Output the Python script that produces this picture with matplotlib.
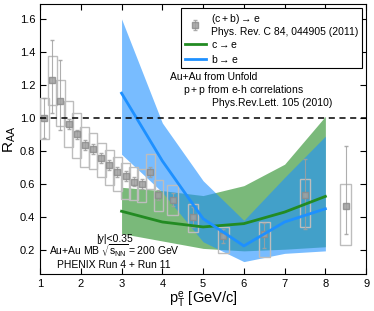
import matplotlib
matplotlib.use("Agg")
import matplotlib.pyplot as plt
from matplotlib.patches import Rectangle

plt.rcParams["font.family"] = ["Liberation Sans", "DejaVu Sans"]
plt.rcParams["mathtext.default"] = "regular"

# PHENIX (c+b)->e, Phys. Rev. C 84, 044905
pt = [1.1, 1.3, 1.5, 1.7, 1.9, 2.1, 2.3, 2.5, 2.7, 2.9, 3.1, 3.3, 3.5, 3.7, 3.9,
      4.25, 4.75, 5.5, 6.5, 7.5, 8.5]
raa = [1.00, 1.23, 1.10, 0.965, 0.90, 0.835, 0.81, 0.76, 0.715, 0.675, 0.65, 0.615,
       0.60, 0.67, 0.535, 0.505, 0.40, 0.285, 0.295, 0.535, 0.465]
stat_lo = [0.12, 0.20, 0.17, 0.03, 0.03, 0.03, 0.03, 0.03, 0.03, 0.03, 0.03, 0.03,
           0.03, 0.03, 0.03, 0.04, 0.06, 0.045, 0.08, 0.205, 0.165]
stat_hi = [0.12, 0.24, 0.25, 0.03, 0.03, 0.03, 0.03, 0.03, 0.03, 0.03, 0.03, 0.03,
           0.03, 0.03, 0.03, 0.04, 0.06, 0.045, 0.07, 0.215, 0.365]
sys_lo = [0.13, 0.15, 0.15, 0.14, 0.14, 0.13, 0.12, 0.12, 0.12, 0.12, 0.14, 0.11,
          0.11, 0.10, 0.10, 0.09, 0.09, 0.105, 0.135, 0.195, 0.235]
sys_hi = [0.12, 0.145, 0.13, 0.135, 0.13, 0.11, 0.10, 0.09, 0.09, 0.09, 0.08, 0.09,
          0.09, 0.11, 0.09, 0.09, 0.08, 0.055, 0.075, 0.095, 0.135]

# unfolded c->e and b->e bands
pt_band = [3, 4, 5, 6, 7, 8]
c_mid = [0.435, 0.37, 0.34, 0.36, 0.43, 0.525]
c_lo = [0.30, 0.255, 0.21, 0.195, 0.205, 0.22]
c_hi = [0.58, 0.56, 0.53, 0.59, 0.72, 1.01]
b_mid = [1.15, 0.74, 0.39, 0.225, 0.37, 0.45]
b_lo = [0.78, 0.55, 0.25, 0.13, 0.18, 0.195]
b_hi = [1.60, 0.97, 0.62, 0.38, 0.64, 0.89]

fig = plt.figure(figsize=(3.74, 3.11), dpi=100)
ax = fig.add_axes([0.107, 0.119, 0.872, 0.868])

ax.fill_between(pt_band, c_lo, c_hi, color="#228b22", alpha=0.6, lw=0, zorder=1)
ax.fill_between(pt_band, b_lo, b_hi, color="#1e90ff", alpha=0.6, lw=0, zorder=2)

# systematic boxes
for x, y, lo, hi in zip(pt, raa, sys_lo, sys_hi):
    hw = 0.11 if x < 4 else 0.13
    ax.add_patch(Rectangle((x - hw, y - lo), 2 * hw, lo + hi, fill=False,
                           edgecolor="#bdbdbd", lw=1.0, zorder=3))

data = ax.errorbar(pt, raa, yerr=[stat_lo, stat_hi], fmt="s", color="#a0a0a0",
                   mec="#8c8c8c", ms=4, elinewidth=0.8, capsize=1.5, alpha=0.85,
                   zorder=4)

c_line, = ax.plot(pt_band, c_mid, color="#228b22", lw=2, zorder=5)
b_line, = ax.plot(pt_band, b_mid, color="#1e90ff", lw=2, zorder=5)

ax.axhline(1.0, color="black", ls=(0, (4, 3)), lw=1.1, zorder=6)

ax.set_xlim(1, 9)
ax.set_ylim(0.055, 1.69)
ax.set_xticks(range(1, 10))
ax.set_yticks([0.2, 0.4, 0.6, 0.8, 1.0, 1.2, 1.4, 1.6])
ax.tick_params(direction="in", top=True, right=True, labelsize=8, length=4)
ax.set_xlabel("$p_T^e$ [GeV/c]", fontsize=10.5, labelpad=1)
ax.set_ylabel("$R_{AA}$", fontsize=11, labelpad=1)

ax.text(4.19, 1.25, "Au+Au from Unfold", fontsize=7.5, va="center")
ax.text(4.51, 1.17, "$p+p$ from e-h correlations", fontsize=7.5, va="center")
ax.text(5.22, 1.09, "Phys.Rev.Lett. 105 (2010)", fontsize=7.5, va="center")

ax.text(2.82, 0.267, "|y|<0.35", fontsize=7.5, ha="center", va="center")
ax.text(2.82, 0.195, "Au+Au MB $\\sqrt{s_{NN}}=200$ GeV", fontsize=7.5,
        ha="center", va="center")
ax.text(2.82, 0.11, "PHENIX Run 4 + Run 11", fontsize=7.5, ha="center", va="center")

leg = ax.legend([data, c_line, b_line],
                ["$(c+b)\\rightarrow e$\nPhys. Rev. C 84, 044905 (2011)",
                 "$c\\rightarrow e$", "$b\\rightarrow e$"],
                loc="upper right", fontsize=7.5, fancybox=False, edgecolor="black",
                framealpha=1, borderaxespad=0.4, borderpad=0.35, handlelength=2.0,
                handletextpad=0.5, labelspacing=0.25)
leg.get_frame().set_linewidth(0.8)

fig.savefig("out.png", dpi=100)
